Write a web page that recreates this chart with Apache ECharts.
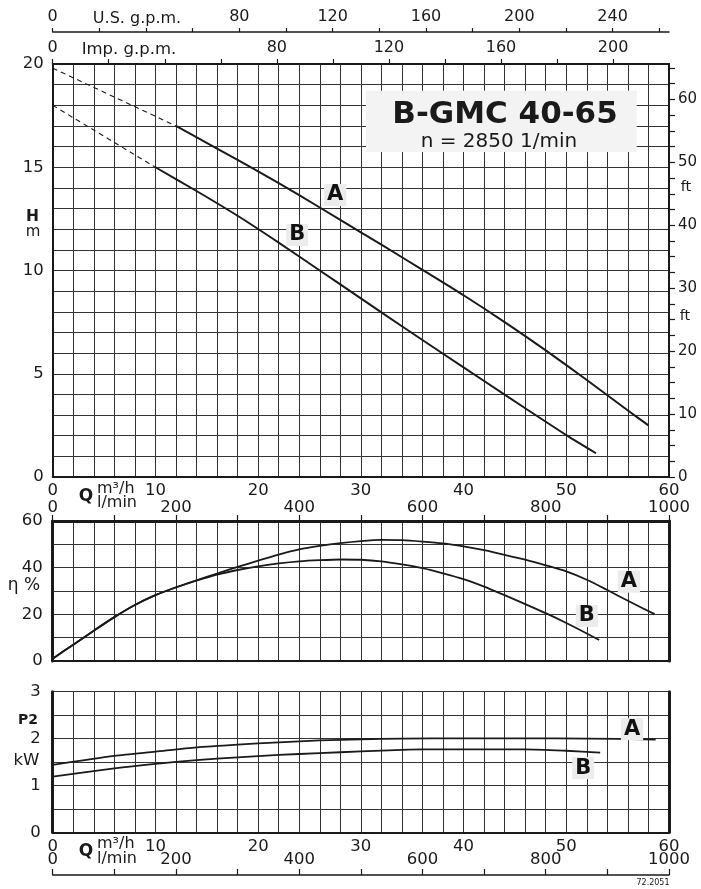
<!DOCTYPE html>
<html><head><meta charset="utf-8">
<script src="https://cdn.jsdelivr.net/npm/echarts@6/dist/echarts.min.js"></script>
<style>html,body{margin:0;padding:0;background:#fff}#c{width:701px;height:889px}</style>
</head><body><div id="c"></div>
<script>
// ---------- data ----------
// Head curves (Q m3/h, H m)
const qHeadADash = [0, 12];
const hHeadADash = [19.8, 17.0];
const qHeadA = [12, 16, 20, 24, 28, 32, 36, 40, 44, 48, 52, 56, 58];
const hHeadA = [17.0, 15.9, 14.8, 13.65, 12.45, 11.25, 10.03, 8.8, 7.5, 6.13, 4.7, 3.22, 2.5];
const qHeadBDash = [0, 10];
const hHeadBDash = [18.0, 15.0];
const qHeadB = [10, 14, 18, 22, 26, 30, 34, 38, 42, 46, 50, 52.9];
const hHeadB = [15.0, 13.85, 12.65, 11.35, 10.0, 8.65, 7.3, 5.97, 4.65, 3.33, 2.03, 1.15];
// Efficiency curves (Q m3/h, eta %)
const qEffA = [0, 2, 4, 6, 8, 10, 12, 14, 16, 18, 20, 22, 24, 26, 28, 30, 32, 34, 36, 38, 40, 42, 44, 46, 48, 50, 52, 54, 56, 58.6];
const effA = [1, 7, 13, 18.8, 24, 28.2, 31.6, 34.6, 37.5, 40.3, 43, 45.6, 47.8, 49.3, 50.5, 51.4, 51.9, 51.8, 51.2, 50.4, 49.1, 47.5, 45.5, 43.4, 41.0, 38.4, 34.8, 30.4, 25.8, 20.1];
const qEffB = [0, 2, 4, 6, 8, 10, 12, 14, 16, 18, 20, 22, 24, 26, 28, 30, 32, 34, 36, 38, 40, 42, 44, 46, 48, 50, 52, 53.2];
const effB = [1, 7, 13, 18.8, 24, 28.2, 31.5, 34.4, 37.0, 39.0, 40.6, 41.8, 42.7, 43.2, 43.5, 43.4, 42.7, 41.4, 39.8, 37.6, 35.1, 31.9, 28.2, 24.4, 20.5, 16.3, 11.8, 9.0];
// Power curves (Q m3/h, P2 kW)
const qPowA = [0, 6, 10, 14, 18, 22, 26, 30, 34, 40, 46, 52, 58.7];
const powA = [1.44, 1.63, 1.72, 1.81, 1.87, 1.92, 1.96, 1.985, 2.0, 2.005, 2.005, 2.0, 1.98];
const qPowB = [0, 6, 10, 14, 18, 22, 26, 30, 34, 36, 46, 50, 53.3];
const powB = [1.19, 1.365, 1.46, 1.54, 1.60, 1.65, 1.69, 1.725, 1.76, 1.77, 1.77, 1.74, 1.70];
// Curve tags [Q, value, name]
const tagsHead = [[27.5, 13.66, 'A'], [23.8, 11.72, 'B']];
const tagsEff = [[56.1, 34.0, 'A'], [52.0, 19.3, 'B']];
const tagsPow = [[56.4, 2.2, 'A'], [51.65, 1.37, 'B']];
// Tick labels
const qLabels = [0, 10, 20, 30, 40, 50, 60];
const lminTicks = [0, 100, 200, 300, 400, 500, 600, 700, 800, 900, 1000];
const lminLabels = [0, 200, 400, 600, 800, 1000];
const usTicks = [0, 20, 40, 60, 80, 100, 120, 140, 160, 180, 200, 220, 240, 260];
const usLabels = [0, 80, 120, 160, 200, 240];
const impTicks = [0, 20, 40, 60, 80, 100, 120, 140, 160, 180, 200];
const impLabels = [0, 80, 120, 160, 200];
const ftTicks = [0, 2.5, 5, 7.5, 10, 12.5, 15, 17.5, 20, 22.5, 25, 27.5, 30, 32.5, 35, 37.5, 40, 42.5, 45, 47.5, 50, 52.5, 55, 57.5, 60, 62.5, 65];
const ftLabels = [0, 10, 20, 30, 40, 50, 60];
const hLabels = [0, 5, 10, 15, 20];
const effLabels = [0, 20, 40, 60];
const powLabels = [0, 1, 2, 3];
const title = 'B-GMC 40-65';
const subtitle = 'n = 2850 1/min';

// ---------- chart ----------
const F = 'DejaVu Sans, Arial, sans-serif';
const INK = '#1a1a1a';
const GRID = '#333333';
const zip = (a, b) => a.map((v, i) => [v, b[i]]);
const US_PER_M3H = 4.402868, IMP_PER_M3H = 3.666154, FT_PER_M = 3.28084;
const plain = v => String(v);

const L = 52.7, W = 616.3;
const grids = [
  { left: L, top: 64, width: W, height: 413, outerBoundsMode: 'none', containLabel: false },
  { left: L, top: 521, width: W, height: 140, outerBoundsMode: 'none', containLabel: false },
  { left: L, top: 691.7, width: W, height: 140.6, outerBoundsMode: 'none', containLabel: false }
];

const lbl = (arr, extra) => Object.assign({
  color: INK, fontFamily: F, fontSize: 16.5,
  showMinLabel: true, showMaxLabel: true,
  formatter: v => (arr.some(a => Math.abs(a - v) < 1e-6) ? String(v) : '')
}, extra || {});
const line = (w) => ({ show: true, onZero: false, lineStyle: { color: INK, width: w } });
const split = { show: true, lineStyle: { color: GRID, width: 1 } };

const xAxis = [
  { gridIndex: 0, type: 'value', min: 0, max: 60, interval: 2, position: 'bottom',
    axisLine: line(2), axisTick: { show: false }, splitLine: split,
    axisLabel: lbl(qLabels, { margin: 5 }) },
  { gridIndex: 0, type: 'value', min: 0, max: 60 * US_PER_M3H, position: 'top', offset: 32,
    axisLine: line(1.5), splitLine: { show: false },
    axisTick: { show: true, inside: false, length: 4, lineStyle: { color: INK, width: 1.2 }, customValues: usTicks },
    axisLabel: { color: INK, fontFamily: F, fontSize: 16, margin: 7, customValues: usLabels,
      formatter: v => (v === 40 ? '' : String(v)) } },
  { gridIndex: 0, type: 'value', min: 0, max: 60 * IMP_PER_M3H, position: 'top', offset: 0,
    axisLine: line(2), splitLine: { show: false },
    axisTick: { show: true, inside: false, length: 5, lineStyle: { color: INK, width: 1.2 }, customValues: impTicks },
    axisLabel: { color: INK, fontFamily: F, fontSize: 16, margin: 8, customValues: impLabels, formatter: plain } },
  { gridIndex: 1, type: 'value', min: 0, max: 60, interval: 2, position: 'bottom',
    axisLine: line(2), axisTick: { show: false }, splitLine: split, axisLabel: { show: false } },
  { gridIndex: 1, type: 'value', min: 0, max: 1000, position: 'top',
    axisLine: line(3), splitLine: { show: false },
    axisTick: { show: true, inside: false, length: 6, lineStyle: { color: INK, width: 1.2 }, customValues: lminTicks },
    axisLabel: { color: INK, fontFamily: F, fontSize: 16.5, margin: 5, customValues: lminLabels, formatter: plain } },
  { gridIndex: 2, type: 'value', min: 0, max: 60, interval: 2, position: 'bottom',
    axisLine: line(2), axisTick: { show: false }, splitLine: split,
    axisLabel: lbl(qLabels, { margin: 6 }) },
  { gridIndex: 2, type: 'value', min: 0, max: 1000, position: 'bottom', offset: 42.7,
    axisLine: line(1.5), splitLine: { show: false },
    axisTick: { show: true, inside: true, length: 6, lineStyle: { color: INK, width: 1.2 }, customValues: lminTicks },
    axisLabel: { color: INK, fontFamily: F, fontSize: 16.5, margin: 7, inside: true, customValues: lminLabels, formatter: plain } }
];

const yAxis = [
  { gridIndex: 0, type: 'value', min: 0, max: 20, interval: 1, position: 'left',
    axisLine: line(2), axisTick: { show: false }, splitLine: split,
    axisLabel: lbl(hLabels, { margin: 9 }) },
  { gridIndex: 0, type: 'value', min: 0, max: 20 * FT_PER_M, position: 'right',
    axisLine: line(2), splitLine: { show: false },
    axisTick: { show: true, inside: false, length: 6, lineStyle: { color: INK, width: 1.2 }, customValues: ftTicks },
    axisLabel: { color: INK, fontFamily: F, fontSize: 15, margin: 9, customValues: ftLabels, formatter: plain } },
  { gridIndex: 1, type: 'value', min: 0, max: 60, interval: 10, position: 'left',
    axisLine: line(3), axisTick: { show: false }, splitLine: split,
    axisLabel: lbl(effLabels, { margin: 10 }) },
  { gridIndex: 1, type: 'value', min: 0, max: 60, interval: 10, position: 'right',
    axisLine: line(3), axisTick: { show: false }, splitLine: { show: false }, axisLabel: { show: false } },
  { gridIndex: 2, type: 'value', min: 0, max: 3, interval: 0.5, position: 'left',
    axisLine: line(3), axisTick: { show: false }, splitLine: split,
    axisLabel: lbl(powLabels, { margin: 12 }) },
  { gridIndex: 2, type: 'value', min: 0, max: 3, interval: 0.5, position: 'right',
    axisLine: line(3), axisTick: { show: false }, splitLine: { show: false }, axisLabel: { show: false } }
];

const curve = (xi, yi, data, w, dashed) => ({
  type: 'line', xAxisIndex: xi, yAxisIndex: yi, data: data, symbol: 'none',
  smooth: dashed ? false : 0.25, silent: true, z: 5,
  lineStyle: { color: INK, width: w, type: dashed ? [5, 4] : 'solid' }
});
const tags = (xi, yi, arr) => ({
  type: 'scatter', xAxisIndex: xi, yAxisIndex: yi, symbolSize: 1, silent: true, z: 6,
  itemStyle: { color: 'rgba(0,0,0,0)' },
  data: arr.map(t => ({ value: [t[0], t[1]], name: t[2] })),
  label: { show: true, position: 'inside', formatter: '{b}', color: '#111111', fontFamily: F,
    fontWeight: 'bold', fontSize: 21, backgroundColor: '#ececec', padding: [1, 3, 0, 3],
    textBorderWidth: 0, opacity: 1 }
});

const series = [
  curve(0, 0, zip(qHeadADash, hHeadADash), 1.1, true),
  curve(0, 0, zip(qHeadA, hHeadA), 2, false),
  curve(0, 0, zip(qHeadBDash, hHeadBDash), 1.1, true),
  curve(0, 0, zip(qHeadB, hHeadB), 2, false),
  curve(3, 2, zip(qEffA, effA), 1.8, false),
  curve(3, 2, zip(qEffB, effB), 1.8, false),
  curve(5, 4, zip(qPowA, powA), 1.8, false),
  curve(5, 4, zip(qPowB, powB), 1.8, false),
  tags(0, 0, tagsHead), tags(3, 2, tagsEff), tags(5, 4, tagsPow)
];

const txt = (x, y, s, size, opts) => Object.assign({
  type: 'text', x: x, y: y, z: 20,
  style: Object.assign({ text: s, fill: INK, font: (opts && opts.bold ? 'bold ' : '') + size + 'px ' + F,
    textAlign: 'center', textVerticalAlign: 'middle' }, (opts && opts.style) || {})
}, (opts && opts.el) || {});

const graphic = [
  { type: 'rect', z: 15, shape: { x: 366, y: 90.7, width: 270.7, height: 61.3 }, style: { fill: '#f3f3f3' } },
  txt(505, 115, title, 31, { bold: true }),
  txt(499, 142, subtitle, 20),
  txt(137, 18.5, 'U.S. g.p.m.', 16),
  txt(129, 49.5, 'Imp. g.p.m.', 16.5),
  txt(32.5, 217, 'H', 15.5, { bold: true }),
  txt(33, 232.5, 'm', 15),
  txt(686, 187, 'ft', 14.5),
  txt(685, 316, 'ft', 14.5),
  txt(86, 497, 'Q', 17, { bold: true }),
  txt(97, 488.5, 'm³/h', 16, { style: { textAlign: 'left' } }),
  txt(97, 502.5, 'l/min', 16, { style: { textAlign: 'left' } }),
  txt(24, 586, 'η %', 17),
  txt(28, 720, 'P2', 14, { bold: true }),
  txt(26.5, 761, 'kW', 16.5),
  txt(86, 852, 'Q', 17, { bold: true }),
  txt(97, 843.5, 'm³/h', 16, { style: { textAlign: 'left' } }),
  txt(97, 858.5, 'l/min', 16, { style: { textAlign: 'left' } }),
  txt(653, 883, '72.2051', 8)
];

const chart = echarts.init(document.getElementById('c'), null, { renderer: 'canvas' });
chart.setOption({
  backgroundColor: '#ffffff', animation: false,
  grid: grids, xAxis: xAxis, yAxis: yAxis, series: series, graphic: graphic
});
</script></body></html>
